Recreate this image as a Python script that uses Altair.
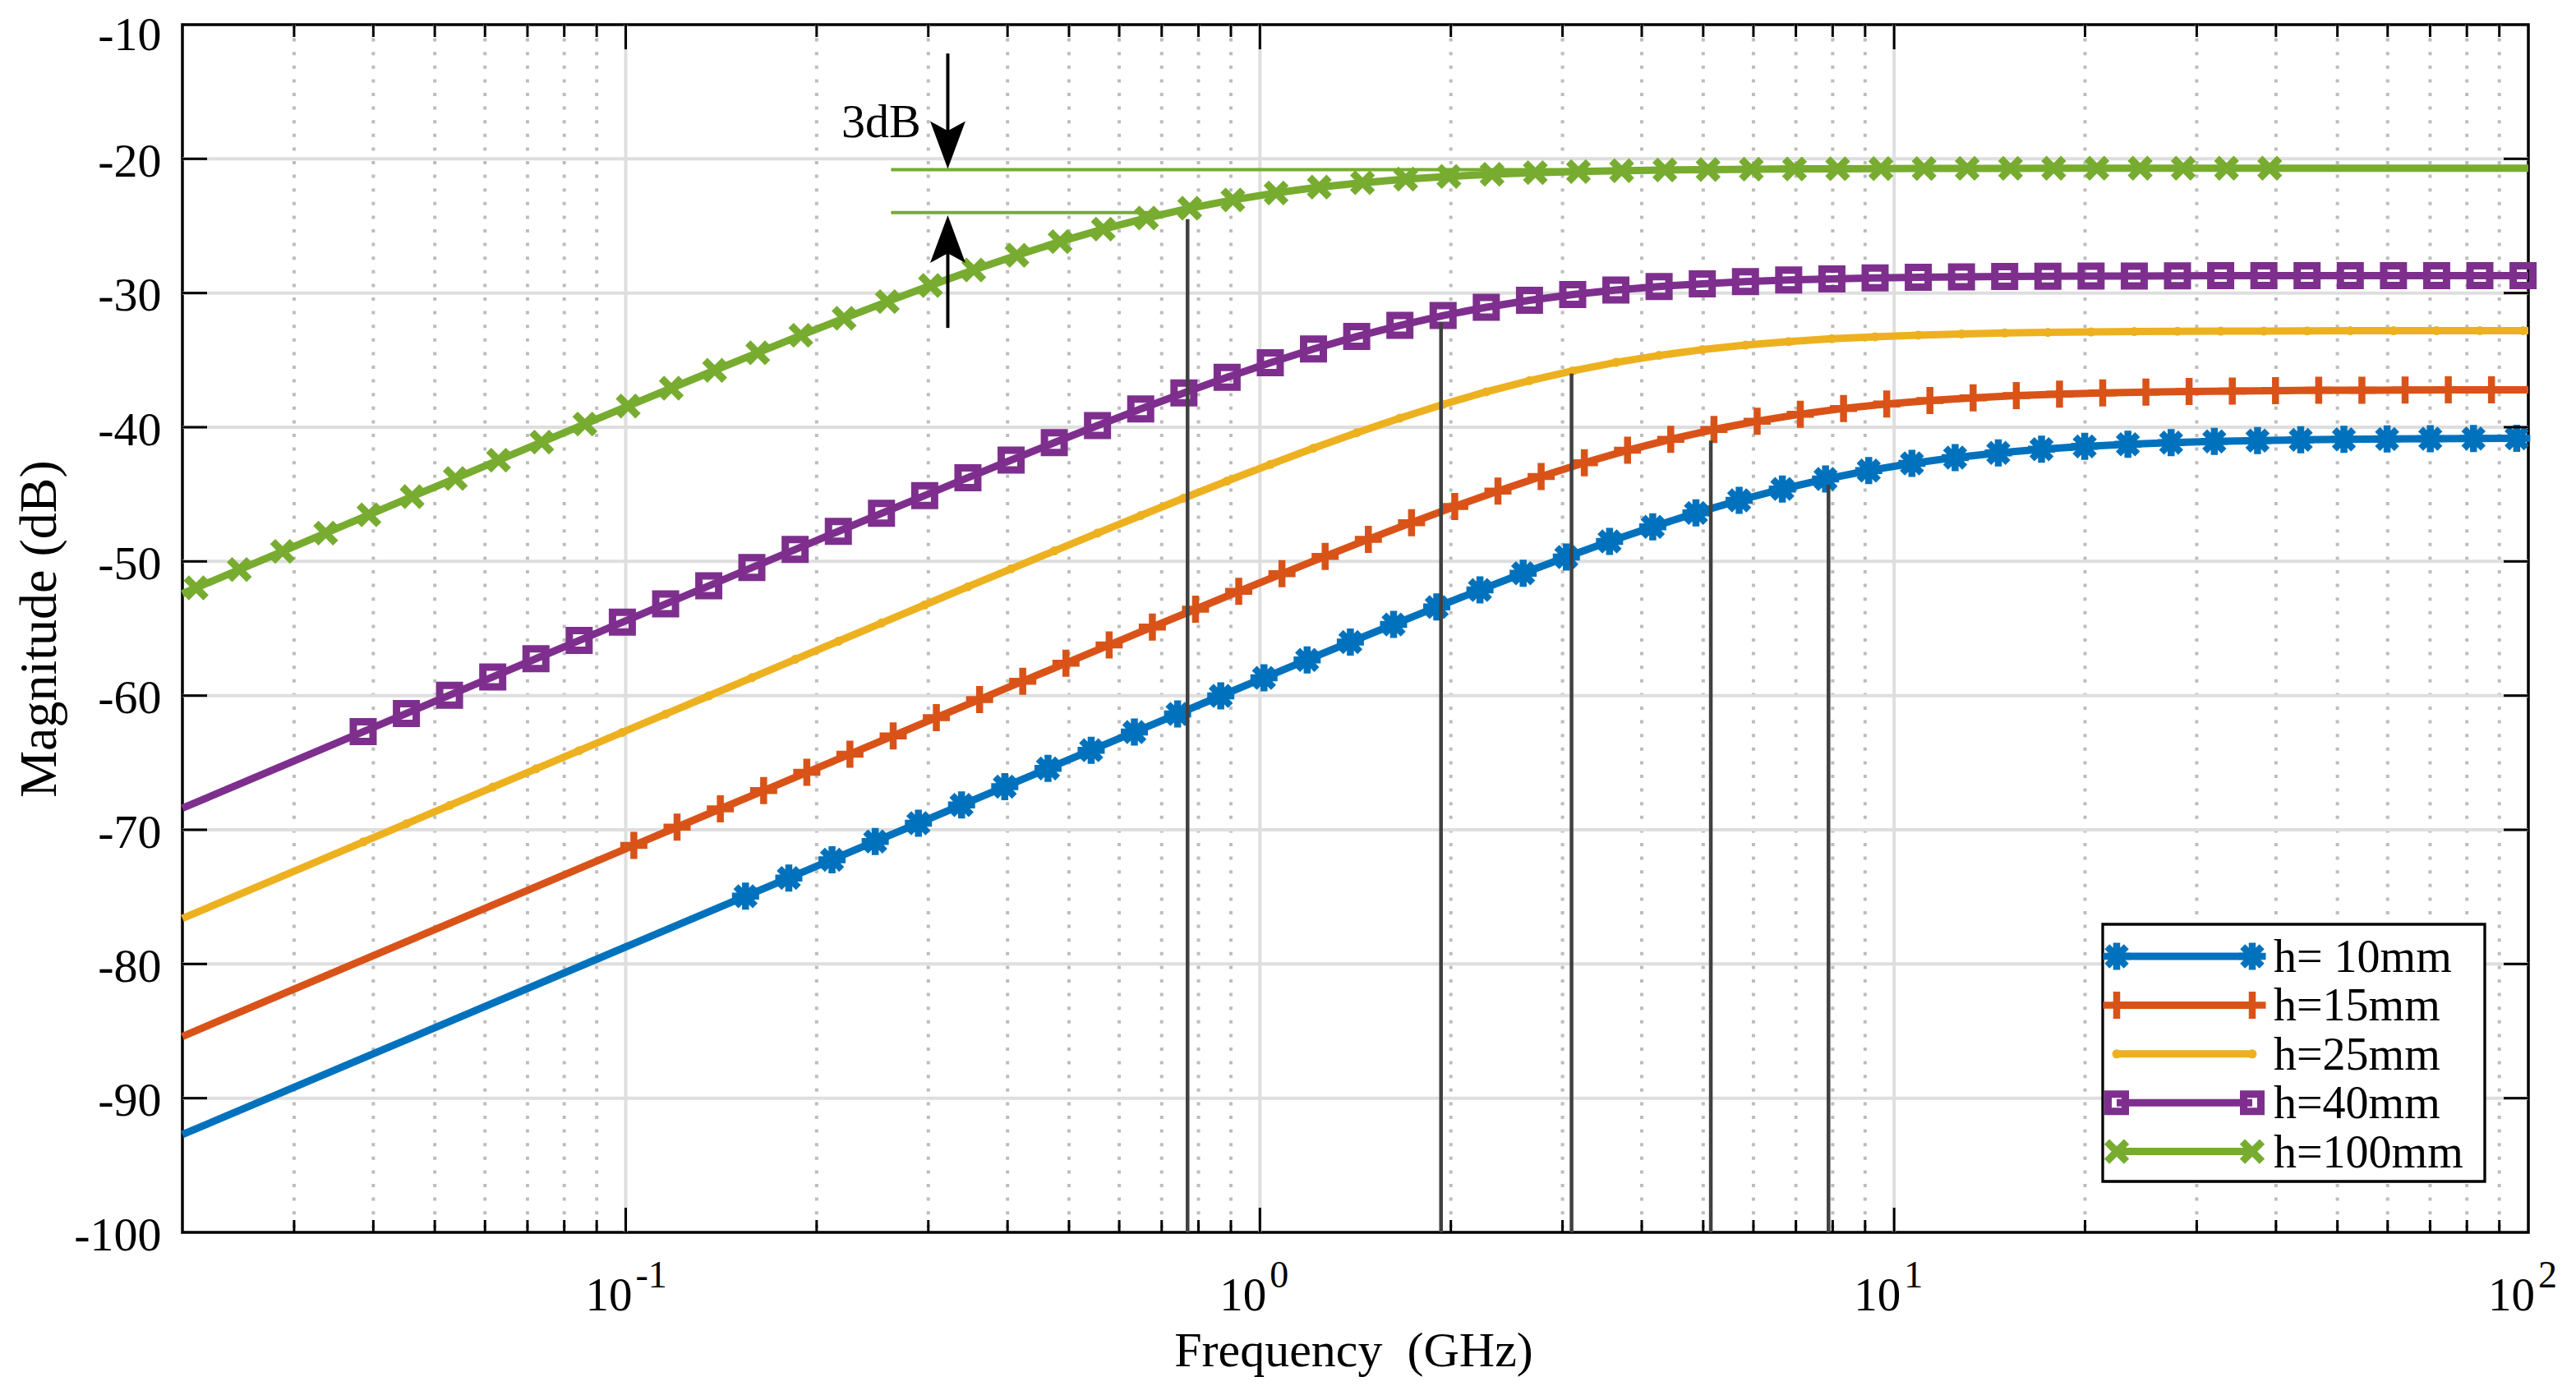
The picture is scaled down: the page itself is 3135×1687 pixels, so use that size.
import altair as alt
import pandas as pd

W, H = 2855, 1470
FONT = "Liberation Serif"

# ---------------- data ----------------
series_names = ["h= 10mm", "h=15mm", "h=25mm", "h=40mm", "h=100mm"]
series_colors = ["#0072BD", "#D95319", "#EDB120", "#7E2F8E", "#77AC30"]

# unmarked line start (0.02 GHz) and end (100 GHz) levels
line_start_freq = 0.02
line_end_freq = 100.0
series_start_mag = [-92.71, -85.40, -76.61, -68.39, -52.40]
series_end_mag = [-40.82, -37.21, -32.80, -28.70, -20.70]

blue_freq = [0.1545, 0.1808, 0.2115, 0.2474, 0.2894, 0.3385, 0.3960, 0.4633, 0.5419, 0.6339,
             0.7416, 0.8675, 1.0148, 1.1871, 1.3887, 1.6245, 1.9003, 2.2230, 2.6005, 3.0421,
             3.5586, 4.1629, 4.8698, 5.6967, 6.6640, 7.7955, 9.1192, 10.668, 12.479, 14.598,
             17.077, 19.977, 23.369, 27.337, 31.979, 37.409, 43.761, 51.192, 59.884, 70.053,
             81.948, 95.863]
blue_mag = [-74.95, -73.59, -72.23, -70.87, -69.51, -68.15, -66.79, -65.43, -64.07, -62.72,
            -61.37, -60.02, -58.68, -57.34, -56.01, -54.70, -53.40, -52.13, -50.88, -49.67,
            -48.51, -47.42, -46.39, -45.45, -44.60, -43.86, -43.23, -42.69, -42.26, -41.91,
            -41.64, -41.43, -41.27, -41.15, -41.06, -40.99, -40.94, -40.90, -40.88, -40.86,
            -40.84, -40.83]

orange_freq = [0.1030, 0.1205, 0.1410, 0.1650, 0.1930, 0.2257, 0.2641, 0.3089, 0.3614, 0.4227,
               0.4945, 0.5785, 0.6767, 0.7916, 0.9260, 1.0833, 1.2672, 1.4824, 1.7341, 2.0286,
               2.3731, 2.7760, 3.2474, 3.7988, 4.4439, 5.1985, 6.0812, 7.1138, 8.3217, 9.7348,
               11.388, 13.322, 15.584, 18.230, 21.325, 24.946, 29.182, 34.137, 39.934, 46.715,
               54.647, 63.926, 74.781, 87.479]
orange_mag = [-71.16, -69.80, -68.44, -67.08, -65.72, -64.36, -63.00, -61.64, -60.29, -58.93,
              -57.58, -56.23, -54.89, -53.56, -52.23, -50.92, -49.62, -48.35, -47.11, -45.91,
              -44.76, -43.67, -42.65, -41.72, -40.90, -40.17, -39.55, -39.03, -38.60, -38.27,
              -38.01, -37.81, -37.65, -37.53, -37.45, -37.38, -37.33, -37.30, -37.27, -37.25,
              -37.24, -37.23, -37.22, -37.22]

yellow_freq = [0.03855, 0.04510, 0.05275, 0.06171, 0.07219, 0.08445, 0.09879, 0.1156, 0.1352, 0.1581,
               0.1850, 0.2164, 0.2531, 0.2961, 0.3464, 0.4052, 0.4740, 0.5545, 0.6487, 0.7588,
               0.8877, 1.0384, 1.2147, 1.4210, 1.6623, 1.9446, 2.2748, 2.6611, 3.1130, 3.6416,
               4.2600, 4.9834, 5.8296, 6.8195, 7.9775, 9.3321, 10.917, 12.771, 14.939, 17.476,
               20.443, 23.915, 27.976, 32.726, 38.283, 44.784, 52.388, 61.284, 71.690, 83.864,
               98.104]
yellow_mag = [-70.91, -69.55, -68.18, -66.82, -65.46, -64.10, -62.74, -61.38, -60.02, -58.66,
              -57.30, -55.95, -54.59, -53.24, -51.89, -50.55, -49.22, -47.89, -46.58, -45.28,
              -44.01, -42.77, -41.56, -40.41, -39.32, -38.30, -37.36, -36.53, -35.80, -35.17,
              -34.65, -34.22, -33.88, -33.62, -33.41, -33.26, -33.14, -33.05, -32.98, -32.93,
              -32.90, -32.87, -32.85, -32.84, -32.83, -32.82, -32.81, -32.81, -32.81, -32.80,
              -32.80]

purple_freq = [0.03855, 0.04510, 0.05275, 0.06171, 0.07219, 0.08445, 0.09879, 0.1156, 0.1352, 0.1581,
               0.1850, 0.2164, 0.2531, 0.2961, 0.3464, 0.4052, 0.4740, 0.5545, 0.6487, 0.7588,
               0.8877, 1.0384, 1.2147, 1.4210, 1.6623, 1.9446, 2.2748, 2.6611, 3.1130, 3.6416,
               4.2600, 4.9834, 5.8296, 6.8195, 7.9775, 9.3321, 10.917, 12.771, 14.939, 17.476,
               20.443, 23.915, 27.976, 32.726, 38.283, 44.784, 52.388, 61.284, 71.690, 83.864,
               98.104]
purple_mag = [-62.69, -61.33, -59.97, -58.61, -57.25, -55.89, -54.53, -53.17, -51.82, -50.46,
              -49.11, -47.76, -46.42, -45.09, -43.76, -42.45, -41.15, -39.88, -38.64, -37.44,
              -36.28, -35.19, -34.17, -33.24, -32.41, -31.68, -31.06, -30.54, -30.11, -29.78,
              -29.51, -29.31, -29.15, -29.03, -28.95, -28.88, -28.83, -28.80, -28.77, -28.75,
              -28.74, -28.73, -28.72, -28.71, -28.71, -28.70, -28.70, -28.70, -28.70, -28.70,
              -28.70]

green_freq = [0.02102, 0.02459, 0.02877, 0.03365, 0.03937, 0.04605, 0.05387, 0.06302, 0.07372, 0.08624,
              0.1009, 0.1180, 0.1381, 0.1615, 0.1889, 0.2210, 0.2585, 0.3024, 0.3538, 0.4139,
              0.4841, 0.5663, 0.6625, 0.7750, 0.9066, 1.0605, 1.2406, 1.4513, 1.6977, 1.986,
              2.323, 2.718, 3.179, 3.719, 4.351, 5.089, 5.954, 6.965, 8.147, 9.531,
              11.15, 13.04, 15.26, 17.85, 20.88, 24.43, 28.57, 33.43, 39.10]
green_mag = [-51.97, -50.61, -49.25, -47.89, -46.53, -45.17, -43.82, -42.46, -41.11, -39.76,
             -38.42, -37.09, -35.76, -34.45, -33.15, -31.88, -30.64, -29.44, -28.28, -27.19,
             -26.17, -25.24, -24.41, -23.68, -23.06, -22.54, -22.11, -21.78, -21.51, -21.31,
             -21.15, -21.03, -20.95, -20.88, -20.83, -20.80, -20.77, -20.75, -20.74, -20.73,
             -20.72, -20.71, -20.71, -20.70, -20.70, -20.70, -20.70, -20.70, -20.70]

# 3 dB cut-off markers (vertical lines down to the axis)
cutoff_freq = [7.88, 5.14, 3.10, 1.93, 0.769]
cutoff_top = [-44.3, -41.0, -36.0, -32.2, -24.5]

# 3 dB annotation
ref_from = [0.262, 0.262]
ref_to = [100.0, 0.769]
ref_mag = [-20.8, -24.0]
arrow_freq = [0.322, 0.322]
arrow_tail = [-12.15, -32.6]
arrow_base = [-19.5, -25.6]
arrow_tip = [-20.75, -24.2]
note_text = ["3dB"]
note_freq = [0.292]
note_mag = [-18.37]

# ticks
y_values = [-100, -90, -80, -70, -60, -50, -40, -30, -20, -10]
y_inner_ticks = [-90, -80, -70, -60, -50, -40, -30, -20]
x_major = [0.1, 1.0, 10.0]
x_minor = [0.03, 0.04, 0.05, 0.06, 0.07, 0.08, 0.09,
           0.2, 0.3, 0.4, 0.5, 0.6, 0.7, 0.8, 0.9,
           2, 3, 4, 5, 6, 7, 8, 9,
           20, 30, 40, 50, 60, 70, 80, 90]
x_label_pos = [0.1, 1.0, 10.0, 100.0]
x_label_base = ["10", "10", "10", "10"]
x_label_exp = ["-1", "0", "1", "2"]

# ---------------- tables ----------------
freq_lists = [blue_freq, orange_freq, yellow_freq, purple_freq, green_freq]
mag_lists = [blue_mag, orange_mag, yellow_mag, purple_mag, green_mag]
rows = []
for name, fl, ml, s, e in zip(series_names, freq_lists, mag_lists, series_start_mag, series_end_mag):
    rows.append({"series": name, "f": line_start_freq, "db": s, "marker": False})
    for f, m in zip(fl, ml):
        rows.append({"series": name, "f": f, "db": m, "marker": True})
    rows.append({"series": name, "f": line_end_freq, "db": e, "marker": False})
df = pd.DataFrame(rows)

xscale = alt.Scale(type="log", domain=[0.02, 100], nice=False)
yscale = alt.Scale(domain=[-100, -10], nice=False, zero=False)

X_AXIS = alt.Axis(
    labels=False, ticks=False, domain=False, grid=False,
    title="Frequency\u00a0 (GHz)", titleFont=FONT, titleFontSize=60,
    titleFontWeight="normal", titleColor="black",
    titleX=1425, titleY=162, titleAlign="center", titleBaseline="alphabetic")
Y_AXIS = alt.Axis(
    values=y_values, labelExpr="'-' + abs(datum.value)", labelFont=FONT,
    labelFontSize=58, labelColor="black", labelPadding=26, labelFlush=False,
    labelOffset={"condition": {"test": "datum.value == -10", "value": 13}, "value": 4},
    ticks=False, tickSize=0, domain=False, grid=False,
    title="Magnitude (dB)", titleFont=FONT, titleFontSize=64,
    titleFontWeight="normal", titleColor="black", titleAngle=270,
    titleX=-155, titleY=H / 2, titleAlign="center", titleBaseline="alphabetic")


def X(field="f"):
    return alt.X(f"{field}:Q", scale=xscale, axis=X_AXIS, title="Frequency\u00a0 (GHz)")


def Y(field="db"):
    return alt.Y(f"{field}:Q", scale=yscale, axis=Y_AXIS, title="Magnitude (dB)")


# marker styles: (shape, size, strokeWidth, filled)
ASTERISK = "M0,-1L0,1M-1,0L1,0M-0.71,-0.71L0.71,0.71M-0.71,0.71L0.71,-0.71"
PLUS = "M0,-1L0,1M-1,0L1,0"
CROSS = "M-1,-1L1,1M-1,1L1,-1"
marker_style = {
    "h= 10mm": (ASTERISK, 1089, 8.5, False),
    "h=15mm": (PLUS, 1089, 8.5, False),
    "h=25mm": ("circle", 121, 0, True),
    "h=40mm": ("square", 576, 9, False),
    "h=100mm": (CROSS, 576, 9, False),
}
legend_marker_size = {"h=40mm": 441}

layers = []

# grid
layers.append(alt.Chart(pd.DataFrame({"f": x_minor})).mark_rule(
    color="#bdbdbd", strokeWidth=4, strokeDash=[4, 12.6]).encode(x=X()))
layers.append(alt.Chart(pd.DataFrame({"f": x_major})).mark_rule(
    color="#dedede", strokeWidth=4).encode(x=X()))
layers.append(alt.Chart(pd.DataFrame({"db": y_inner_ticks})).mark_rule(
    color="#dedede", strokeWidth=4).encode(y=Y()))

# annotation reference lines
layers.append(alt.Chart(pd.DataFrame({"f": ref_from, "f2": ref_to, "db": ref_mag})).mark_rule(
    color="#77AC30", strokeWidth=4).encode(x=X(), x2="f2:Q", y=Y()))

# series lines
layers.append(alt.Chart(df).mark_line(strokeWidth=9, strokeJoin="round").encode(
    x=X(), y=Y(),
    color=alt.Color("series:N", scale=alt.Scale(domain=series_names, range=series_colors), legend=None),
    detail="series:N",
))

# markers
for name, col in zip(series_names, series_colors):
    shp, size, sw, filled = marker_style[name]
    layers.append(
        alt.Chart(df).transform_filter(alt.FieldEqualPredicate(field="series", equal=name))
        .transform_filter("datum.marker")
        .mark_point(shape=shp, size=size, strokeWidth=sw, filled=filled, color=col, opacity=1)
        .encode(x=X(), y=Y())
    )

# cut-off lines
layers.append(alt.Chart(pd.DataFrame({"f": cutoff_freq, "db": cutoff_top})).mark_rule(
    color="#404040", strokeWidth=4.5).encode(x=X(), y=Y(), y2=alt.datum(-100)))

# arrows
arr = pd.DataFrame({"f": arrow_freq, "db": arrow_tail, "b": arrow_base, "tip": arrow_tip})
layers.append(alt.Chart(arr).mark_rule(color="black", strokeWidth=4).encode(x=X(), y=Y(), y2="b:Q"))
DOWN_HEAD = "M0,0L-0.74,-2L0,-1.6L0.74,-2Z"
UP_HEAD = "M0,0L-0.74,2L0,1.6L0.74,2Z"
heads = pd.DataFrame({"f": arrow_freq, "db": arrow_tip})
layers.append(alt.Chart(heads.iloc[[0]]).mark_point(
    shape=DOWN_HEAD, size=3364, filled=True, color="black", strokeWidth=0, opacity=1
).encode(x=X(), y=Y()))
layers.append(alt.Chart(heads.iloc[[1]]).mark_point(
    shape=UP_HEAD, size=3364, filled=True, color="black", strokeWidth=0, opacity=1
).encode(x=X(), y=Y()))
layers.append(alt.Chart(pd.DataFrame({"f": note_freq, "db": note_mag, "t": note_text})).mark_text(
    align="right", baseline="alphabetic", font=FONT, fontSize=58, color="black"
).encode(x=X(), y=Y(), text="t:N"))

# inward ticks (box style)
tick_col = "black"
layers.append(alt.Chart(pd.DataFrame({"f": x_major})).mark_rule(color=tick_col, strokeWidth=3).encode(
    x=X(), y=alt.value(H), y2=alt.value(H - 30)))
layers.append(alt.Chart(pd.DataFrame({"f": x_major})).mark_rule(color=tick_col, strokeWidth=3).encode(
    x=X(), y=alt.value(0), y2=alt.value(30)))
layers.append(alt.Chart(pd.DataFrame({"f": x_minor})).mark_rule(color=tick_col, strokeWidth=3).encode(
    x=X(), y=alt.value(H), y2=alt.value(H - 15)))
layers.append(alt.Chart(pd.DataFrame({"f": x_minor})).mark_rule(color=tick_col, strokeWidth=3).encode(
    x=X(), y=alt.value(0), y2=alt.value(15)))
layers.append(alt.Chart(pd.DataFrame({"db": y_inner_ticks})).mark_rule(color=tick_col, strokeWidth=3).encode(
    y=Y(), x=alt.value(0), x2=alt.value(30)))
layers.append(alt.Chart(pd.DataFrame({"db": y_inner_ticks})).mark_rule(color=tick_col, strokeWidth=3).encode(
    y=Y(), x=alt.value(W), x2=alt.value(W - 30)))

# x tick labels as 10^n
xl = pd.DataFrame({"f": x_label_pos, "b": x_label_base, "e": x_label_exp})
layers.append(alt.Chart(xl).mark_text(
    align="right", baseline="alphabetic", dx=8, font=FONT, fontSize=57, color="black"
).encode(x=X(), y=alt.value(H + 95), text="b:N"))
layers.append(alt.Chart(xl).mark_text(
    align="left", baseline="alphabetic", dx=12, font=FONT, fontSize=46, color="black"
).encode(x=X(), y=alt.value(H + 67), text="e:N"))

# legend (drawn in pixel space of the plot)
LEG_BOX = (2337, 1095, 2802, 1408)
LEG_ROW0, LEG_STEP = 1134, 59.4
LEG_LX1, LEG_LX2, LEG_TX = 2354, 2519, 2545
leg = pd.DataFrame({"series": series_names, "color": series_colors})
leg["ly"] = [LEG_ROW0 + LEG_STEP * i for i in range(len(series_names))]
leg["lx1"] = LEG_LX1
leg["lx2"] = LEG_LX2
leg["tx"] = LEG_TX
leg["ty"] = leg["ly"] + 19
leg_pts = pd.concat([
    leg[["series", "ly"]].assign(px=LEG_LX1),
    leg[["series", "ly"]].assign(px=LEG_LX2),
])

layers.append(alt.Chart(pd.DataFrame({"a": [0]})).mark_rect(
    fill="white", stroke="black", strokeWidth=3.3
).encode(x=alt.value(LEG_BOX[0]), x2=alt.value(LEG_BOX[2]),
         y=alt.value(LEG_BOX[1]), y2=alt.value(LEG_BOX[3])))
layers.append(alt.Chart(leg).mark_rule(strokeWidth=9).encode(
    x=alt.X("lx1:Q", scale=None, axis=None), x2="lx2:Q", y=alt.Y("ly:Q", scale=None, axis=None),
    color=alt.Color("color:N", scale=None)))
for name, col in zip(series_names, series_colors):
    shp, size, sw, filled = marker_style[name]
    size = legend_marker_size.get(name, size)
    layers.append(
        alt.Chart(leg_pts).transform_filter(alt.FieldEqualPredicate(field="series", equal=name))
        .mark_point(shape=shp, size=size, strokeWidth=sw, filled=filled, color=col, opacity=1)
        .encode(x=alt.X("px:Q", scale=None, axis=None), y=alt.Y("ly:Q", scale=None, axis=None))
    )
layers.append(alt.Chart(leg).mark_text(
    align="left", baseline="alphabetic", font=FONT, fontSize=56, color="black"
).encode(x=alt.X("tx:Q", scale=None, axis=None), y=alt.Y("ty:Q", scale=None, axis=None), text="series:N"))

chart = alt.layer(*layers).properties(
    width=W, height=H,
    autosize=alt.AutoSizeParams(type="none"),
    padding={"left": 214, "top": 22, "right": 40, "bottom": 178},
    background="white",
).configure_view(stroke="black", strokeWidth=3.5)

chart.save("out.html", embed_options={"renderer": "svg", "actions": False})
